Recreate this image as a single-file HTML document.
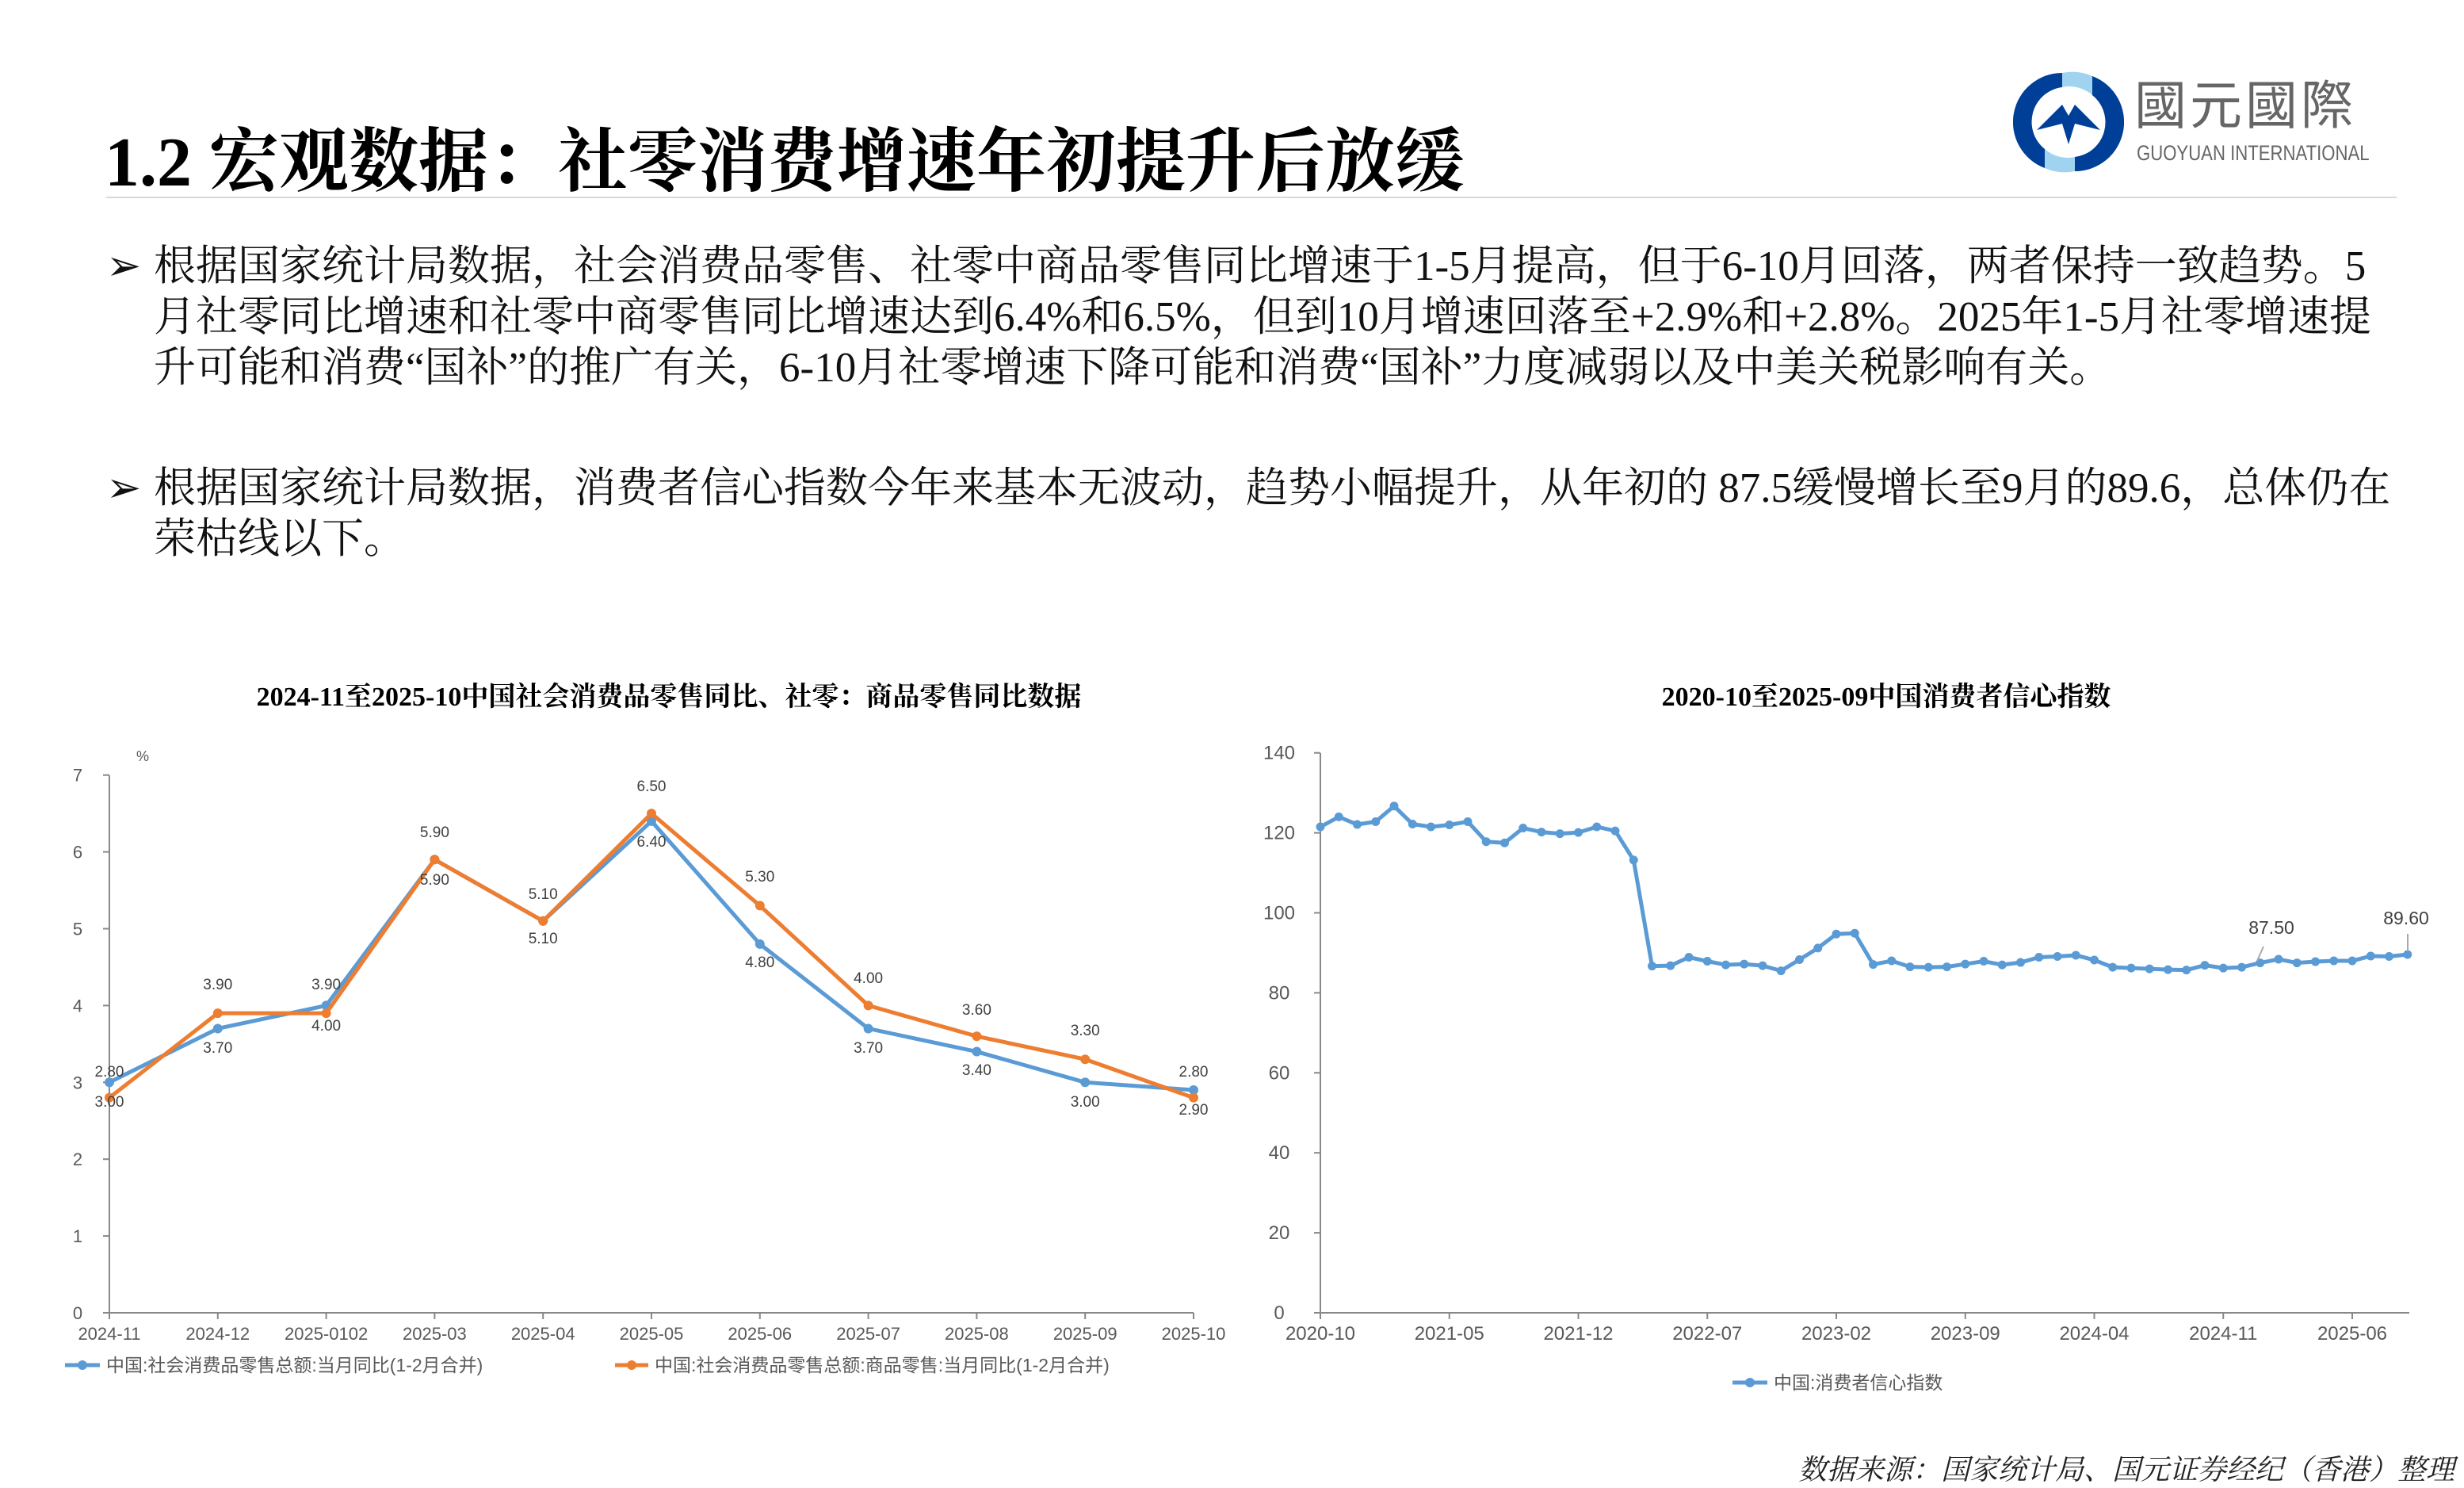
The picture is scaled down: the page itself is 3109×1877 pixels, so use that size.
<!DOCTYPE html>
<html><head><meta charset="utf-8">
<style>
html,body{margin:0;padding:0;background:#fff;}
body{width:3109px;height:1865px;position:relative;overflow:hidden;}
.t{position:absolute;white-space:nowrap;}
#title{left:132px;top:134px;font:bold 88px "Liberation Serif","Noto Serif CJK SC",serif;color:#000;}
.body{font:53px "Liberation Serif","Noto Serif CJK SC",serif;color:#111;line-height:64px;}
#foot{right:12px;top:1826px;font:italic 36px "Liberation Serif","Noto Serif CJK SC",serif;color:#222;}
</style></head><body>
<div class="t" id="title">1.2 宏观数据：社零消费增速年初提升后放缓</div>
<div style="position:absolute;left:134px;top:248px;width:2890px;height:2px;background:#d8d8d8"></div>

<svg style="position:absolute;left:2540px;top:84px" width="140" height="140" viewBox="0 0 140 140">
<path d="M62 8 A62 62 0 0 0 40 128 L40 104 A44 44 0 0 1 62 26 Z" fill="#003f98"/>
<path d="M78 132 A62 62 0 0 0 100 12 L100 36 A44 44 0 0 1 78 114 Z" fill="#003f98"/>
<path d="M62 8 A62 62 0 0 1 100 12 L100 36 A44 44 0 0 0 62 26Z" fill="#9fd3f0"/>
<path d="M78 132 A62 62 0 0 1 40 128 L40 104 A44 44 0 0 0 78 114Z" fill="#9fd3f0"/>
<path d="M30 80 L62 48 L70 62 L78 48 L110 80 L78 72 L70 98 L62 72 Z" fill="#003f98"/>
</svg>
<div class="t" style="left:2693px;top:88px;font:66px 'Noto Sans CJK TC',sans-serif;color:#666;letter-spacing:4px;line-height:80px">國元國際</div>
<div class="t" style="left:2696px;top:178px;font:27px 'Liberation Sans',sans-serif;color:#666;transform:scaleX(0.82);transform-origin:left">GUOYUAN INTERNATIONAL</div>

<div class="t body" style="left:134px;top:304px">➢</div>
<div class="t body" style="left:194px;top:304px">根据国家统计局数据，社会消费品零售、社零中商品零售同比增速于1-5月提高，但于6-10月回落，两者保持一致趋势。5<br>月社零同比增速和社零中商零售同比增速达到6.4%和6.5%，但到10月增速回落至+2.9%和+2.8%。2025年1-5月社零增速提<br>升可能和消费“国补”的推广有关，6-10月社零增速下降可能和消费“国补”力度减弱以及中美关税影响有关。</div>
<div class="t body" style="left:134px;top:584px">➢</div>
<div class="t body" style="left:194px;top:584px">根据国家统计局数据，消费者信心指数今年来基本无波动，趋势小幅提升，从年初的 87.5缓慢增长至9月的89.6，总体仍在<br>荣枯线以下。</div>

<svg id="ch" style="position:absolute;left:0;top:0" width="3109" height="1865" font-family="Liberation Sans, Noto Sans CJK SC, sans-serif"></svg>
<div class="t" id="foot">数据来源：国家统计局、国元证券经纪（香港）整理</div>

<script>
var s=document.getElementById('ch'),h='';
function T(x,y,t,sz,c,a,w,f){h+='<text x="'+x+'" y="'+y+'" font-size="'+sz+'" fill="'+(c||'#595959')+'" text-anchor="'+(a||'middle')+'"'+(w?' font-weight="bold"':'')+(f?' font-family="'+f+'"':'')+'>'+t+'</text>';}
function L(x1,y1,x2,y2,c,w){h+='<line x1="'+x1+'" y1="'+y1+'" x2="'+x2+'" y2="'+y2+'" stroke="'+c+'" stroke-width="'+w+'"/>';}
var serif='Liberation Serif, Noto Serif CJK SC, serif';
T(844,890,'2024-11至2025-10中国社会消费品零售同比、社零：商品零售同比数据',34,'#000','middle',1,serif);
var x0=138,y0=1656,u=96.9,st=136.8;
L(x0,978,x0,y0,'#888',2);L(x0,y0,1506,y0,'#888',2);
T(180,960,'%',18);
for(var i=0;i<=7;i++){var y=y0-i*u;L(x0-8,y,x0,y,'#888',2);T(98,y+8,i,22,'#595959','middle');}
var lx=['2024-11','2024-12','2025-0102','2025-03','2025-04','2025-05','2025-06','2025-07','2025-08','2025-09','2025-10'];
for(i=0;i<11;i++){var x=x0+i*st;L(x,y0,x,y0+8,'#888',2);T(x,y0+34,lx[i],22);}
var b=[3.0,3.7,4.0,5.9,5.1,6.4,4.8,3.7,3.4,3.0,2.9],o=[2.8,3.9,3.9,5.9,5.1,6.5,5.3,4.0,3.6,3.3,2.8];
function poly(d,c){var p=d.map(function(v,i){return (x0+i*st)+','+(y0-v*u)}).join(' ');h+='<polyline points="'+p+'" fill="none" stroke="'+c+'" stroke-width="5" stroke-linejoin="round"/>';d.forEach(function(v,i){h+='<circle cx="'+(x0+i*st)+'" cy="'+(y0-v*u)+'" r="6" fill="'+c+'"/>';});}
poly(b,'#5b9bd5');poly(o,'#ed7d31');
var above=[[0,'2.80',1358],[1,'3.90',1248],[2,'3.90',1248],[3,'5.90',1056],[4,'5.10',1134],[5,'6.50',998],[6,'5.30',1112],[7,'4.00',1240],[8,'3.60',1280],[9,'3.30',1306],[10,'2.80',1358]];
var below=[[0,'3.00',1396],[1,'3.70',1328],[2,'4.00',1300],[3,'5.90',1116],[4,'5.10',1190],[5,'6.40',1068],[6,'4.80',1220],[7,'3.70',1328],[8,'3.40',1356],[9,'3.00',1396],[10,'2.90',1406]];
above.concat(below).forEach(function(a){T(x0+a[0]*st,a[2],a[1],19,'#404040');});
L(82,1722,126,1722,'#5b9bd5',5);h+='<circle cx="104" cy="1722" r="6" fill="#5b9bd5"/>';
T(134,1730,'中国:社会消费品零售总额:当月同比(1-2月合并)',23,'#595959','start');
L(776,1722,818,1722,'#ed7d31',5);h+='<circle cx="797" cy="1722" r="6" fill="#ed7d31"/>';
T(826,1730,'中国:社会消费品零售总额:商品零售:当月同比(1-2月合并)',23,'#595959','start');
T(2380,890,'2020-10至2025-09中国消费者信心指数',34,'#000','middle',1,serif);
var X0=1666,Y0=1656,U=100.9/20,ST=23.25;
L(X0,950,X0,Y0,'#888',2);L(X0,Y0,3040,Y0,'#888',2);
for(i=0;i<=7;i++){var y=Y0-i*20*U;L(X0-8,y,X0,y,'#888',2);T(1614,y+8,i*20,24,'#595959','middle');}
var rl=['2020-10','2021-05','2021-12','2022-07','2023-02','2023-09','2024-04','2024-11','2025-06'];
for(i=0;i<9;i++){var x=X0+i*7*ST;L(x,Y0,x,Y0+8,'#888',2);T(x,Y0+34,rl[i],24);}
var c=[121.5,124.0,122.1,122.8,126.7,122.2,121.5,122.0,122.8,117.8,117.5,121.2,120.2,119.8,120.1,121.5,120.5,113.2,86.7,86.8,88.9,87.9,87.0,87.2,86.8,85.5,88.3,91.2,94.7,94.9,87.1,88.0,86.5,86.4,86.5,87.2,87.9,87.0,87.6,88.9,89.1,89.4,88.2,86.4,86.2,86.0,85.8,85.7,86.9,86.2,86.4,87.5,88.4,87.5,87.8,88.0,88.0,89.2,89.1,89.6];
var p=c.map(function(v,i){return (X0+i*ST)+','+(Y0-v*U)}).join(' ');
h+='<polyline points="'+p+'" fill="none" stroke="#5b9bd5" stroke-width="5" stroke-linejoin="round"/>';
c.forEach(function(v,i){h+='<circle cx="'+(X0+i*ST)+'" cy="'+(Y0-v*U)+'" r="5.5" fill="#5b9bd5"/>';});
T(2866,1178,'87.50',23,'#404040');L(2856,1194,2848,1212,'#aaa',2);
T(3036,1166,'89.60',23,'#404040');L(3038,1178,3038,1200,'#aaa',2);
L(2186,1744,2230,1744,'#5b9bd5',5);h+='<circle cx="2208" cy="1744" r="6" fill="#5b9bd5"/>';
T(2238,1752,'中国:消费者信心指数',23,'#595959','start');
s.innerHTML=h;
</script>
</body></html>
